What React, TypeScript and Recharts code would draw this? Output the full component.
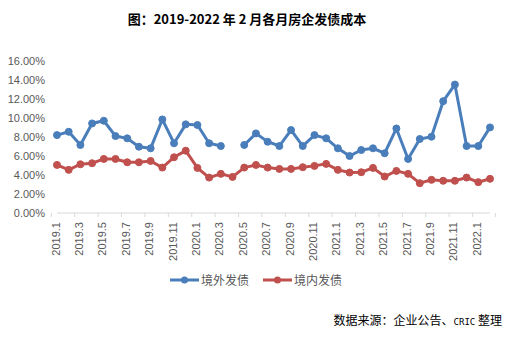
import React from 'react';
import { LineChart, Line, XAxis, YAxis } from 'recharts';

const categories = [
  '2019.1','2019.2','2019.3','2019.4','2019.5','2019.6','2019.7','2019.8','2019.9','2019.10','2019.11','2019.12',
  '2020.1','2020.2','2020.3','2020.4','2020.5','2020.6','2020.7','2020.8','2020.9','2020.10','2020.11','2020.12',
  '2021.1','2021.2','2021.3','2021.4','2021.5','2021.6','2021.7','2021.8','2021.9','2021.10','2021.11','2021.12',
  '2022.1','2022.2',
];

const overseas: (number | null)[] = [
  8.2, 8.55, 7.16, 9.43, 9.71, 8.1, 7.86, 6.98, 6.81, 9.85, 7.34, 9.33,
  9.26, 7.34, 7.05, null, 7.16, 8.38, 7.5, 7.05, 8.73, 7.05, 8.2, 7.86,
  6.81, 6.0, 6.63, 6.81, 6.29, 8.9, 5.69, 7.79, 8.03, 11.77, 13.52, 7.05,
  7.05, 9.01,
];

const domestic: number[] = [
  5.06, 4.54, 5.13, 5.24, 5.69, 5.69, 5.34, 5.34, 5.48, 4.78, 5.87, 6.56,
  4.75, 3.73, 4.12, 3.8, 4.78, 5.06, 4.78, 4.64, 4.64, 4.82, 4.96, 5.17,
  4.54, 4.26, 4.29, 4.75, 3.84, 4.43, 4.12, 3.14, 3.49, 3.39, 3.39, 3.73,
  3.25, 3.6,
];

const yTicks = [0, 2, 4, 6, 8, 10, 12, 14, 16];

const seriesNames = { overseas: '境外发债', domestic: '境内发债' };
const colors = { overseas: '#4a7ebb', domestic: '#c0504d' };

const data = categories.map((c, i) => ({ cat: c, overseas: overseas[i], domestic: domestic[i] }));

const W = 513;
const H = 341;
const margin = { top: 61, right: 23, bottom: 88, left: 0 };
const yWidth = 57;
const band = (W - margin.left - margin.right - yWidth) / categories.length;

const XTick = (props: any) => {
  const { x, y, payload } = props;
  const axisY = y;
  const lx = x - band / 2;
  const isLast = payload.value === '2022.1';
  return (
    <g>
      <line x1={lx} y1={axisY} x2={lx} y2={axisY + 4} stroke="#d9d9d9" strokeWidth={1} />
      {isLast && (
        <line x1={x + band * 1.5} y1={axisY} x2={x + band * 1.5} y2={axisY + 4} stroke="#d9d9d9" strokeWidth={1} />
      )}
      <text
        x={x - 1.5}
        y={axisY + 9}
        transform={`rotate(-90, ${x - 1.5}, ${axisY + 9})`}
        textAnchor="end"
        dominantBaseline="central"
        fontSize={11}
        fill="#595959"
        fontFamily="'Liberation Sans', Arial, sans-serif"
      >
        {payload.value}
      </text>
    </g>
  );
};

const LegendBlock = () => (
  <div
    style={{
      position: 'absolute', left: 170, top: 272, display: 'flex',
      fontFamily: "'Noto Sans CJK SC', sans-serif", fontSize: 12, color: '#595959',
    }}
  >
    {(['overseas', 'domestic'] as const).map((k, i) => (
      <div key={k} style={{ display: 'flex', alignItems: 'center', marginRight: i === 0 ? 14 : 0 }}>
        <svg width={29} height={10}>
          <line x1={0} y1={5} x2={29} y2={5} stroke={colors[k]} strokeWidth={3} />
          <circle cx={14.5} cy={5} r={3.5} fill={colors[k]} />
        </svg>
        <span style={{ marginLeft: 2, lineHeight: '16px' }}>{seriesNames[k]}</span>
      </div>
    ))}
  </div>
);

export default function App() {
  return (
    <div style={{ position: 'absolute', left: 0, top: 0, width: W, height: H, background: '#fff' }}>
      <div
        style={{
          position: 'absolute', left: 0, top: 10, width: 494, textAlign: 'center',
          fontFamily: "'Noto Sans CJK SC', sans-serif", fontWeight: 700, fontSize: 13, color: '#000', lineHeight: '18px',
        }}
      >
        图：2019-2022 年 2 月各月房企发债成本
      </div>
      <LineChart width={W} height={H} data={data} margin={margin}>
        <YAxis
          domain={[0, 16]}
          ticks={yTicks}
          width={yWidth}
          axisLine={false}
          tickLine={false}
          tickSize={6}
          tickMargin={6}
          tickFormatter={(v: number) => v.toFixed(2) + '%'}
          tick={{ fontSize: 11, fill: '#595959', fontFamily: "'Liberation Sans', Arial, sans-serif" }}
        />
        <XAxis
          dataKey="cat"
          interval={1}
          height={40}
          axisLine={{ stroke: '#d9d9d9' }}
          tickLine={false}
          tickSize={0}
          tickMargin={0}
          tick={<XTick />}
        />
        <Line
          type="linear"
          dataKey="overseas"
          name={seriesNames.overseas}
          stroke={colors.overseas}
          strokeWidth={3}
          dot={{ r: 3.5, fill: colors.overseas, stroke: colors.overseas, strokeWidth: 1 }}
          isAnimationActive={false}
        />
        <Line
          type="linear"
          dataKey="domestic"
          name={seriesNames.domestic}
          stroke={colors.domestic}
          strokeWidth={3}
          dot={{ r: 3.5, fill: colors.domestic, stroke: colors.domestic, strokeWidth: 1 }}
          isAnimationActive={false}
        />
      </LineChart>
      <LegendBlock />
      <div
        style={{
          position: 'absolute', right: 11, top: 311, whiteSpace: 'nowrap',
          fontFamily: "'Noto Sans CJK SC', sans-serif", fontSize: 12, color: '#000', lineHeight: '18px',
        }}
      >
        数据来源：企业公告、<span style={{ fontFamily: "'DejaVu Sans Mono', monospace", fontSize: 9 }}>CRIC</span> 整理
      </div>
    </div>
  );
}
